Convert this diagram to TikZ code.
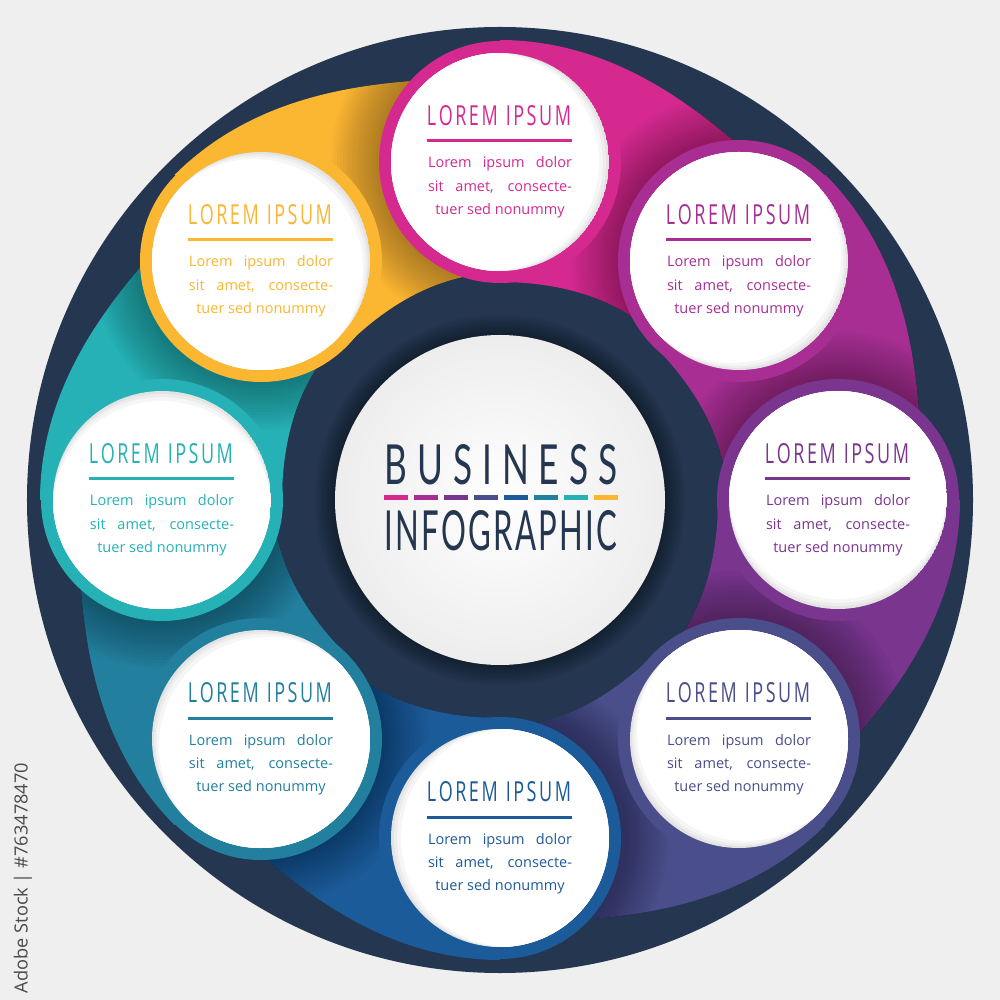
\documentclass[tikz,border=0pt]{standalone}
\usepackage{fontspec}
\setmainfont{Open Sans}
\newfontfamily\headfont{Open Sans}
\newfontfamily\titlefont{Lato}
\usetikzlibrary{calc}
\definecolor{bg}{HTML}{EFEFEF}
\definecolor{navy}{HTML}{243650}
\definecolor{cYel}{HTML}{FBB632}
\definecolor{cPink}{HTML}{D62990}
\definecolor{cMag}{HTML}{A82E93}
\definecolor{cPur}{HTML}{7A358F}
\definecolor{cInd}{HTML}{4A4E8A}
\definecolor{cBlu}{HTML}{1C5B9A}
\definecolor{cTbl}{HTML}{22809E}
\definecolor{cTea}{HTML}{25B1B5}
\definecolor{wmark}{HTML}{4A4A4A}
\newcommand{\tailpath}[1]{plot[domain=0:45,samples=40,smooth] ({#1-\x}:{441+19*cos(4*\x)}) -- plot[domain=45:0,samples=40,smooth] ({#1-\x}:{222.5-4.5*cos(4*\x)}) -- cycle}
\newcommand{\loremhead}{L\kern.14em O\kern.14em R\kern.14em E\kern.14em M\kern.45em I\kern.14em P\kern.14em S\kern.14em U\kern.14em M}
\newcommand{\kk}{\kern.28em}
\newcommand{\ki}{\kern.07em}
\tikzset{
  headtxt/.style={inner sep=0pt, font=\headfont},
  bodytxt/.style={inner sep=0pt, anchor=base, font=\fontsize{14.5}{16}\selectfont},
  titletxt/.style={inner sep=0pt, text=navy},
}
\begin{document}
\begin{tikzpicture}[x=1pt,y=1pt]
\fill[bg] (-500,-500) rectangle (500,500);
\useasboundingbox (-500,-500) rectangle (500,500);
\fill[navy] (0,0) circle (473);
% tails
\foreach \a/\c in {135/cYel,90/cPink,45/cMag,0/cPur,-45/cInd,-90/cBlu,-135/cTbl,180/cTea}{
  \fill[\c] \tailpath{\a};
}
% shadows of circles on the previous tail
\foreach \a in {135,90,45,0,-45,-90,-135,180}{
  \pgfmathsetmacro\pa{\a+45}
  \begin{scope}
    \clip \tailpath{\pa};
    \foreach \j in {1,...,16} \fill[black,opacity=0.02] (\a:338) circle ({121+3*\j});
  \end{scope}
}
% circles
\foreach \a/\c/\n in {135/cYel/1,90/cPink/2,45/cMag/3,0/cPur/4,-45/cInd/5,-90/cBlu/6,-135/cTbl/7,180/cTea/8}{
  \coordinate (c\n) at (\a:338);
  \fill[\c] (c\n) circle (121);
  \begin{scope}
    \clip (c\n) circle (109);
    \fill[gray!22] (c\n) circle (109);
    \fill[gray!14] ($(c\n)+(\a+90:3)$) circle (109);
    \fill[gray!7] ($(c\n)+(\a+90:6)$) circle (109);
    \fill[white] ($(c\n)+(\a+90:10)$) circle (109);
  \end{scope}
  \node[headtxt, text=\c] (h\n) at ($(c\n)+(-1,46)$) {\resizebox{144pt}{20pt}{\loremhead}};
  \fill[\c] ($(c\n)+(-73,19.5)$) rectangle ($(c\n)+(72,22.5)$);
  \node[bodytxt, text=\c] (ba\n) at ($(c\n)+(0,-6)$) {\makebox[144pt][s]{Lorem ipsum dolor}};
  \node[bodytxt, text=\c] (bb\n) at ($(c\n)+(0,-29.5)$) {\makebox[144pt][s]{sit amet, consecte-}};
  \node[bodytxt, text=\c] (bc\n) at ($(c\n)+(0,-52.5)$) {tuer sed nonummy};
}
% center
\foreach \j in {1,...,10} \fill[black,opacity=0.04] (0,0) circle ({165+2*\j});
\shade[inner color=white, outer color=gray!14] (0,0) circle (165);
\node[titletxt] (t1) at (1,35) {\resizebox{232pt}{40pt}{\titlefont B\kk U\kk S\kk I\kk N\kk E\kk S\kk S}};
\node[titletxt] (t2) at (1,-30.5) {\resizebox{232pt}{40pt}{\titlefont I\ki N\ki F\ki O\ki G\ki R\ki A\ki P\ki H\ki I\ki C}};
\foreach \c [count=\i from 0] in {cPink,cMag,cPur,cInd,cBlu,cTbl,cTea,cYel}
  \fill[\c] ({-116+30*\i},0.3) rectangle ({-92+30*\i},5);
% side text
\node[rotate=90, inner sep=0pt, text=wmark] (wm) at (-477,-378) {\resizebox{230pt}{!}{Adobe Stock | \#763478470}};
\end{tikzpicture}
\end{document}
